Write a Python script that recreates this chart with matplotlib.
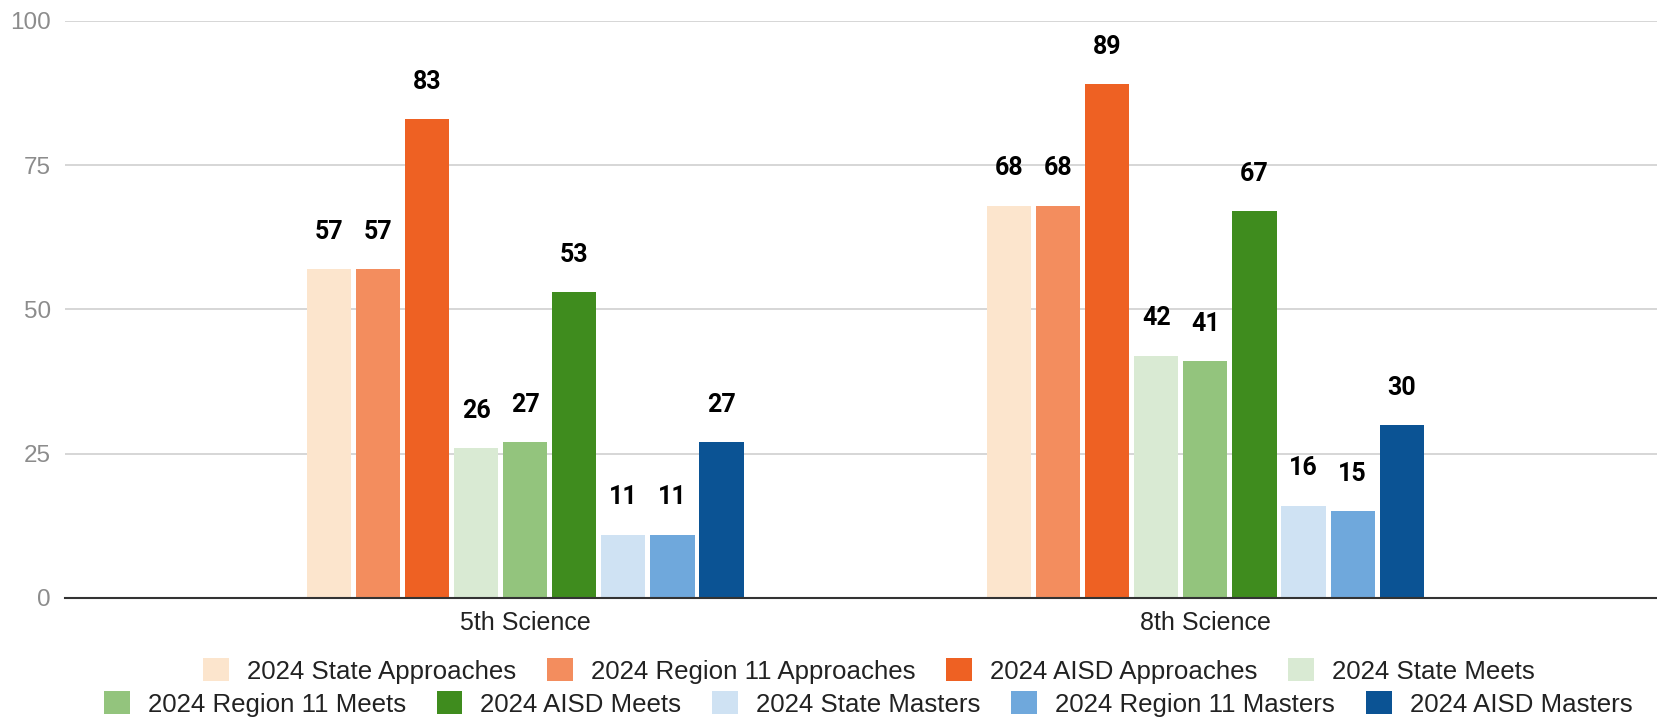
import matplotlib
matplotlib.use("Agg")
import matplotlib.pyplot as plt
from matplotlib.patches import Patch
import numpy as np

categories = ["5th Science", "8th Science"]
series_names = [
    "2024 State Approaches", "2024 Region 11 Approaches", "2024 AISD Approaches",
    "2024 State Meets", "2024 Region 11 Meets", "2024 AISD Meets",
    "2024 State Masters", "2024 Region 11 Masters", "2024 AISD Masters",
]
state_approaches = [57, 68]
region_approaches = [57, 68]
aisd_approaches = [83, 89]
state_meets = [26, 42]
region_meets = [27, 41]
aisd_meets = [53, 67]
state_masters = [11, 16]
region_masters = [11, 15]
aisd_masters = [27, 30]
series_values = [state_approaches, region_approaches, aisd_approaches,
                 state_meets, region_meets, aisd_meets,
                 state_masters, region_masters, aisd_masters]
colors = ["#FCE5CD", "#F38D5E", "#EE6123", "#D9EAD3", "#93C47D", "#3F8C1E",
          "#CFE2F3", "#6FA8DC", "#0B5394"]
yticks = [0, 25, 50, 75, 100]

plt.rcParams['font.family'] = ['Liberation Sans', 'DejaVu Sans']

W, H = 1657, 717
fig = plt.figure(figsize=(W / 100, H / 100), dpi=100)
ax = fig.add_axes([65 / W, 1 - 598 / H, (W - 65) / W, (598 - 21) / H])

x = np.arange(len(categories))
pitch = 0.0722
width = 0.065
n = len(series_values)
for i, (vals, c, name) in enumerate(zip(series_values, colors, series_names)):
    xpos = x + (i - (n - 1) / 2) * pitch
    bars = ax.bar(xpos, vals, width=width, color=c, label=name, zorder=3)
    for b, v in zip(bars, vals):
        ax.annotate(str(v), (b.get_x() + b.get_width() / 2, v),
                    xytext=(0, 26.8), textcoords="offset points",
                    ha="center", va="center", fontsize=18, fontweight="bold",
                    family=["Roboto", "DejaVu Sans"], color="black")

ax.set_xlim(-0.6765, 1.664)
ax.set_ylim(0, 100)
ax.set_yticks(yticks)
ax.set_yticklabels([str(t) for t in yticks])
ax.set_xticks(x)
ax.set_xticklabels(categories)
ax.tick_params(axis="y", length=0, pad=10, labelsize=17.5, labelcolor="#8c8c8c")
ax.tick_params(axis="x", length=0, pad=9.5, labelsize=18, labelcolor="#222222")
ax.grid(axis="y", color="#d0d0d0", linewidth=1.2, zorder=0)
for s in ["top", "right", "left"]:
    ax.spines[s].set_visible(False)
ax.spines["bottom"].set_color("#333333")
ax.spines["bottom"].set_linewidth(1.5)
ax.spines["bottom"].set_zorder(4)

handles = [Patch(facecolor=c, edgecolor="none") for c in colors]
common = dict(frameon=False, fontsize=18.6, handlelength=1.0, handleheight=1.0,
              handletextpad=0.7, columnspacing=1.19, borderpad=0, borderaxespad=0)
leg1 = fig.legend(handles[:4], series_names[:4], ncol=4, loc="center",
                  bbox_to_anchor=(869 / W, 1 - 671 / H), **common)
leg2 = fig.legend(handles[4:], series_names[4:], ncol=5, loc="center",
                  bbox_to_anchor=(868 / W, 1 - 704 / H), **common)
for t in leg1.get_texts() + leg2.get_texts():
    t.set_color("#222222")

fig.savefig("out.png", dpi=100)
